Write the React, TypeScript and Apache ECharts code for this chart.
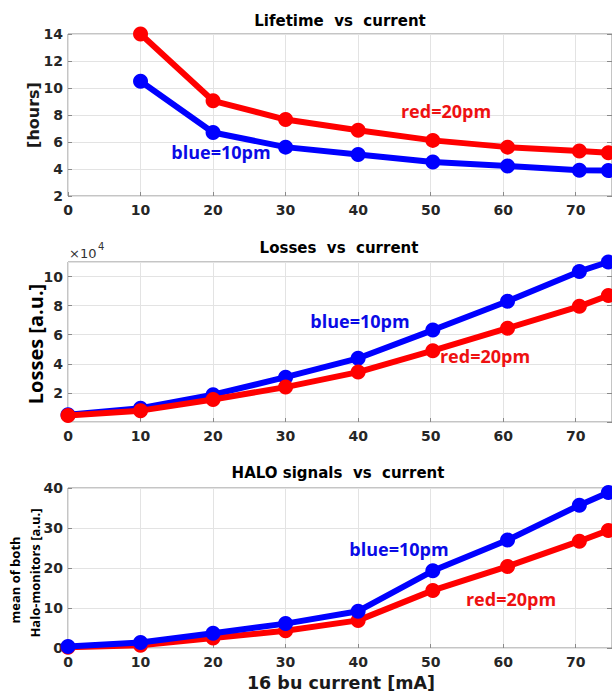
import React, { useEffect, useRef } from "react";
import * as echarts from "echarts";

// x positions (16 bu current, mA)
const currentLifetime = [10, 20, 30, 40, 50.3, 60.6, 70.5, 74.5];
const currentAll = [0, 10, 20, 30, 40, 50.3, 60.6, 70.5, 74.5];

// Lifetime [hours]
const lifetimeBlue10pm = [10.5, 6.7, 5.62, 5.08, 4.52, 4.22, 3.9, 3.88];
const lifetimeRed20pm = [14.0, 9.05, 7.66, 6.87, 6.12, 5.62, 5.33, 5.2];

// Losses [a.u.] (x 10^4)
const lossesBlue10pm = [0.5, 0.95, 1.88, 3.08, 4.38, 6.32, 8.3, 10.35, 11.0];
const lossesRed20pm = [0.45, 0.78, 1.55, 2.4, 3.43, 4.9, 6.45, 7.95, 8.7];

// HALO signals, mean of both halo-monitors [a.u.]
const haloBlue10pm = [0.4, 1.4, 3.7, 6.1, 9.2, 19.3, 27.0, 35.7, 38.9];
const haloRed20pm = [0.2, 0.7, 2.5, 4.3, 6.9, 14.4, 20.4, 26.7, 29.4];

const BLUE = "#0000ff";
const RED = "#ff0000";
const BLUE_TXT = "#0a0ae6";
const RED_TXT = "#ee1111";
const AXIS = "#8a8a8a";
const TICKTXT = "#262626";
const GRIDLINE = "#e3e3e3";

const zip = (xs: number[], ys: number[]) => ys.map((y, i) => [xs[i], y]);

const tickFont = { fontFamily: "DejaVu Sans", fontWeight: "bold" as const, fontSize: 14, color: TICKTXT };

function makeX(gridIndex: number) {
  return {
    type: "value",
    gridIndex,
    min: 0,
    max: 75,
    interval: 10,
    axisLine: { show: false },
    axisTick: { show: true, inside: true, length: 4, lineStyle: { color: AXIS } },
    axisLabel: { ...tickFont, margin: 7, showMaxLabel: false },
    splitLine: { show: true, lineStyle: { color: GRIDLINE, width: 1 } },
  };
}

function makeY(gridIndex: number, min: number, max: number, interval: number, hideMin: boolean) {
  return {
    type: "value",
    gridIndex,
    min,
    max,
    interval,
    axisLine: { show: false },
    axisTick: { show: true, inside: true, length: 4, lineStyle: { color: AXIS } },
    axisLabel: { ...tickFont, margin: 5, showMinLabel: !hideMin, showMaxLabel: max % interval === 0 },
    splitLine: { show: true, lineStyle: { color: GRIDLINE, width: 1 } },
  };
}

function makeYRight(gridIndex: number, min: number, max: number, interval: number) {
  return {
    type: "value",
    gridIndex,
    position: "right",
    min,
    max,
    interval,
    axisLine: { show: false },
    axisTick: { show: true, inside: true, length: 5, lineStyle: { color: AXIS } },
    axisLabel: { show: false },
    splitLine: { show: false },
  };
}

function line(name: string, data: number[][], color: string, xi: number, yi: number, z: number) {
  return {
    type: "line",
    name,
    data,
    xAxisIndex: xi,
    yAxisIndex: yi,
    clip: false,
    z,
    symbol: "circle",
    symbolSize: 15,
    lineStyle: { color, width: 6 },
    itemStyle: { color },
  };
}

function txt(
  text: string,
  x: number,
  y: number,
  font: string,
  fill: string,
  rotation = 0,
  align = "center"
) {
  return {
    type: "text",
    x,
    y,
    rotation,
    z: 100,
    style: {
      text,
      font,
      fill,
      align,
      verticalAlign: "middle",
      textAlign: align,
      textVerticalAlign: "middle",
    },
  };
}

export default function App() {
  const ref = useRef<HTMLDivElement>(null);

  useEffect(() => {
    if (!ref.current) return;
    const chart = echarts.init(ref.current, undefined, { renderer: "svg" });
    const gridBase = { left: 68, width: 546, show: true, borderColor: AXIS, borderWidth: 1, backgroundColor: "transparent" };
    const titleFont = 'bold 15px "DejaVu Sans"';
    const annFont = 'bold 18px "Open Sans"';
    chart.setOption({
      animation: false,
      backgroundColor: "#ffffff",
      grid: [
        { ...gridBase, top: 34, height: 162 },
        { ...gridBase, top: 262, height: 160 },
        { ...gridBase, top: 488, height: 160 },
      ],
      xAxis: [makeX(0), makeX(1), makeX(2)],
      yAxis: [
        makeY(0, 2, 14, 2, false),
        makeY(1, 0, 11, 2, true),
        makeY(2, 0, 40, 10, false),
        makeYRight(0, 2, 14, 2),
        makeYRight(1, 0, 11, 2),
        makeYRight(2, 0, 40, 10),
      ],
      series: [
        line("lifetime blue=10pm", zip(currentLifetime, lifetimeBlue10pm), BLUE, 0, 0, 2),
        line("lifetime red=20pm", zip(currentLifetime, lifetimeRed20pm), RED, 0, 0, 3),
        line("losses blue=10pm", zip(currentAll, lossesBlue10pm), BLUE, 1, 1, 2),
        line("losses red=20pm", zip(currentAll, lossesRed20pm), RED, 1, 1, 3),
        line("halo red=20pm", zip(currentAll, haloRed20pm), RED, 2, 2, 2),
        line("halo blue=10pm", zip(currentAll, haloBlue10pm), BLUE, 2, 2, 3),
      ],
      graphic: [
        txt("Lifetime  vs  current", 340, 21, titleFont, "#000000"),
        txt("Losses  vs  current", 339, 248, titleFont, "#000000"),
        txt("HALO signals  vs  current", 338, 473, titleFont, "#000000"),
        txt("[hours]", 33, 115, 'bold 16px "DejaVu Sans"', "#1a1a1a", Math.PI / 2),
        txt("Losses [a.u.]", 35, 344, 'bold 20px "Open Sans"', "#000000", Math.PI / 2),
        txt("mean of both", 15, 580, 'bold 13px "Open Sans"', "#000000", Math.PI / 2),
        txt("Halo-monitors [a.u.]", 35, 573, 'bold 13px "Open Sans"', "#000000", Math.PI / 2),
        txt("16 bu current [mA]", 341, 683, 'bold 17.5px "DejaVu Sans"', "#1a1a1a"),
        txt("\u00d710", 69, 253, '13px "DejaVu Sans"', "#333333", 0, "left"),
        txt("4", 98, 246, '10px "DejaVu Sans"', "#333333", 0, "left"),
        txt("red=20pm", 446, 111, annFont, RED_TXT),
        txt("blue=10pm", 221, 152, annFont, BLUE_TXT),
        txt("blue=10pm", 360, 321, annFont, BLUE_TXT),
        txt("red=20pm", 485, 356, annFont, RED_TXT),
        txt("blue=10pm", 399, 549, annFont, BLUE_TXT),
        txt("red=20pm", 511, 599, annFont, RED_TXT),
      ],
    });
    return () => chart.dispose();
  }, []);

  return (
    <div
      ref={ref}
      style={{ position: "absolute", left: 0, top: 0, width: 612, height: 694, overflow: "hidden" }}
    />
  );
}
